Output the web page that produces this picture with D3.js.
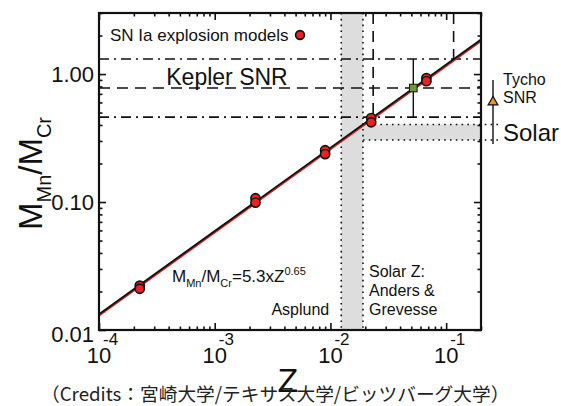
<!DOCTYPE html>
<html>
<head>
<meta charset="utf-8">
<script src="https://cdn.jsdelivr.net/npm/d3@7"></script>
<style>
  body { margin: 0; background: #fff; }
  svg text { font-family: "Liberation Sans", Arial, sans-serif; fill: #111; }
  .credits { font-family: "Noto Sans CJK JP", "Noto Sans", sans-serif !important; fill: #222; }
</style>
</head>
<body>
<svg id="chart"></svg>
<script>
// SN Ia explosion models (metallicity Z, Mn/Cr mass ratio)
const modelZ = [2.25e-4, 2.25e-4, 2.25e-3, 2.25e-3, 9e-3, 9e-3, 0.0225, 0.0225, 0.0675, 0.0675];
const modelRatio = [0.0222, 0.0210, 0.107, 0.099, 0.254, 0.237, 0.453, 0.420, 0.930, 0.880];

// fit lines M_Mn/M_Cr = 5.3 x Z^0.65 (black) and the red model fit below it
const fitZ = [1e-4, 0.2];
const fitRatio = [0.0133, 1.86];
const redFitRatio = [0.0130, 1.82];

// Kepler SNR: ratio low / central / high, and matching Z
const keplerRatio = [0.461, 0.778, 1.31];
const keplerZ = [0.0234, 0.0520, 0.116];

// Solar Z: Asplund .. Anders & Grevesse, and matching ratio band
const solarZ = [0.0124, 0.0191];
const solarRatio = [0.305, 0.404];

// Tycho SNR: low / central / high ratio
const tychoRatio = [0.284, 0.604, 0.897];

const xMajorTicks = [1e-4, 1e-3, 1e-2, 1e-1];
const xExponents = ['-4', '-3', '-2', '-1'];
const yMajorTicks = [0.01, 0.1, 1];
const yTickLabels = ['0.01', '0.10', '1.00'];

class MnCrChart {
    constructor(_config) {
        this.config = {
            parentElement: _config.parentElement,
            containerWidth: _config.containerWidth || 561,
            containerHeight: _config.containerHeight || 406,
            margin: {top: 13, right: 80, bottom: 76, left: 99}
        };
        this.initVis();
    }

    initVis() {
        let vis = this;

        vis.width = vis.config.containerWidth - vis.config.margin.left - vis.config.margin.right;
        vis.height = vis.config.containerHeight - vis.config.margin.top - vis.config.margin.bottom;

        vis.svg = d3.select(vis.config.parentElement)
            .attr('width', vis.config.containerWidth)
            .attr('height', vis.config.containerHeight);

        vis.chart = vis.svg.append('g')
            .attr('transform', `translate(${vis.config.margin.left},${vis.config.margin.top})`);

        vis.xScale = d3.scaleLog()
            .domain([1e-4, 0.2])
            .range([0, vis.width]);

        vis.yScale = d3.scaleLog()
            .domain([0.01, 3])
            .range([vis.height, 0]);

        vis.renderVis();
    }

    renderVis() {
        let vis = this;
        const x = vis.xScale, y = vis.yScale;
        const W = vis.width, H = vis.height;

        // solar Z band (vertical) and solar ratio band (horizontal)
        vis.chart.append('rect')
            .attr('x', x(solarZ[0]))
            .attr('width', x(solarZ[1]) - x(solarZ[0]))
            .attr('y', 0)
            .attr('height', H)
            .attr('fill', '#dddddd');

        vis.chart.append('rect')
            .attr('x', x(solarZ[1]))
            .attr('width', W - x(solarZ[1]))
            .attr('y', y(solarRatio[1]))
            .attr('height', y(solarRatio[0]) - y(solarRatio[1]))
            .attr('fill', '#dddddd');

        vis.chart.selectAll('.solar-v')
            .data(solarZ)
            .join('line')
            .attr('class', 'solar-v')
            .attr('x1', d => x(d)).attr('x2', d => x(d))
            .attr('y1', 0).attr('y2', H)
            .attr('stroke', '#111').attr('stroke-width', 1.6)
            .attr('stroke-dasharray', '1.6,4.2');

        vis.chart.selectAll('.solar-h')
            .data(solarRatio)
            .join('line')
            .attr('class', 'solar-h')
            .attr('x1', x(solarZ[1])).attr('x2', W + 19)
            .attr('y1', d => y(d)).attr('y2', d => y(d))
            .attr('stroke', '#111').attr('stroke-width', 1.6)
            .attr('stroke-dasharray', '1.6,4.2');

        // Kepler SNR lines
        vis.chart.selectAll('.kepler-h')
            .data(keplerRatio)
            .join('line')
            .attr('class', 'kepler-h')
            .attr('x1', 0).attr('x2', W)
            .attr('y1', d => y(d)).attr('y2', d => y(d))
            .attr('stroke', '#111').attr('stroke-width', 1.6)
            .attr('stroke-dasharray', (d, i) => i === 1 ? '11,7' : '10,5,2,5');

        vis.chart.append('line')
            .attr('x1', x(keplerZ[0])).attr('x2', x(keplerZ[0]))
            .attr('y1', 0).attr('y2', y(keplerRatio[0]))
            .attr('stroke', '#111').attr('stroke-width', 1.6)
            .attr('stroke-dasharray', '11,7');

        vis.chart.append('line')
            .attr('x1', x(keplerZ[2])).attr('x2', x(keplerZ[2]))
            .attr('y1', 0).attr('y2', y(keplerRatio[2]))
            .attr('stroke', '#111').attr('stroke-width', 1.6)
            .attr('stroke-dasharray', '11,7');

        vis.chart.append('text')
            .attr('x', 128).attr('y', 72)
            .attr('text-anchor', 'middle')
            .attr('font-size', 23)
            .text('Kepler SNR');

        // fit lines
        const fitData = fitZ.map((z, i) => ({z: z, v: fitRatio[i], r: redFitRatio[i]}));
        vis.chart.append('path')
            .datum(fitData)
            .attr('fill', 'none')
            .attr('stroke', '#d42020').attr('stroke-width', 2.2)
            .attr('d', d3.line().x(d => x(d.z)).y(d => y(d.r)));
        vis.chart.append('path')
            .datum(fitData)
            .attr('fill', 'none')
            .attr('stroke', '#111').attr('stroke-width', 1.8)
            .attr('d', d3.line().x(d => x(d.z)).y(d => y(d.v)));

        // model points
        vis.chart.selectAll('.model-pt')
            .data(modelZ.map((z, i) => ({z: z, v: modelRatio[i]})))
            .join('circle')
            .attr('class', 'model-pt')
            .attr('cx', d => x(d.z)).attr('cy', d => y(d.v))
            .attr('r', 4.6)
            .attr('fill', '#ee2020')
            .attr('stroke', '#111').attr('stroke-width', 1.6);

        // Kepler measured value with error bar
        vis.chart.append('line')
            .attr('x1', x(keplerZ[1])).attr('x2', x(keplerZ[1]))
            .attr('y1', y(keplerRatio[0])).attr('y2', y(keplerRatio[2]))
            .attr('stroke', '#111').attr('stroke-width', 1.4);
        vis.chart.append('rect')
            .attr('x', x(keplerZ[1]) - 3.8).attr('y', y(keplerRatio[1]) - 3.8)
            .attr('width', 7.6).attr('height', 7.6)
            .attr('fill', '#6a9a3a')
            .attr('stroke', '#111').attr('stroke-width', 1);

        // Tycho SNR outside the frame
        const tx = W + 12;
        vis.chart.append('line')
            .attr('x1', tx).attr('x2', tx)
            .attr('y1', y(tychoRatio[0])).attr('y2', y(tychoRatio[2]))
            .attr('stroke', '#111').attr('stroke-width', 1.4);
        vis.chart.append('path')
            .attr('transform', `translate(${tx},${y(tychoRatio[1])})`)
            .attr('d', d3.symbol().type(d3.symbolTriangle).size(42))
            .attr('fill', '#f0921e')
            .attr('stroke', '#111').attr('stroke-width', 1.2);

        vis.chart.append('text').attr('x', W + 22).attr('y', 72).attr('font-size', 16).text('Tycho');
        vis.chart.append('text').attr('x', W + 22).attr('y', 90).attr('font-size', 16).text('SNR');
        vis.chart.append('text').attr('x', W + 22).attr('y', 128).attr('font-size', 24).text('Solar');

        // legend
        vis.chart.append('text')
            .attr('x', 11).attr('y', 28)
            .attr('font-size', 17)
            .text('SN Ia explosion models');
        vis.chart.append('circle')
            .attr('cx', 201).attr('cy', 22).attr('r', 4.4)
            .attr('fill', '#ee2020')
            .attr('stroke', '#111').attr('stroke-width', 1.6);

        // formula
        const f = vis.chart.append('text')
            .attr('x', 73).attr('y', 269)
            .attr('font-size', 17);
        f.append('tspan').text('M');
        f.append('tspan').attr('font-size', 11).attr('dy', 5).text('Mn');
        f.append('tspan').attr('dy', -5).text('/M');
        f.append('tspan').attr('font-size', 11).attr('dy', 5).text('Cr');
        f.append('tspan').attr('dy', -5).text('=5.3xZ');
        f.append('tspan').attr('font-size', 11).attr('dy', -7).text('0.65');

        // solar Z labels
        vis.chart.append('text')
            .attr('x', x(solarZ[0]) - 12).attr('y', 302)
            .attr('text-anchor', 'end').attr('font-size', 16)
            .text('Asplund');
        ['Solar Z:', 'Anders &', 'Grevesse'].forEach((t, i) => {
            vis.chart.append('text')
                .attr('x', x(solarZ[1]) + 6).attr('y', 264 + i * 19)
                .attr('font-size', 16)
                .text(t);
        });

        // axes with inward ticks
        const xMinor = x.ticks().filter(d => !xMajorTicks.some(m => Math.abs(m - d) / m < 1e-6));
        const yMinor = y.ticks().filter(d => !yMajorTicks.some(m => Math.abs(m - d) / m < 1e-6));

        const tickGroup = (axis, vals, size, tr) => {
            const g = vis.chart.append('g')
                .attr('transform', tr)
                .call(axis.tickValues(vals).tickSize(size).tickFormat(''));
            g.select('.domain').remove();
            g.selectAll('line').attr('stroke', '#111').attr('stroke-width', 1.6);
        };
        tickGroup(d3.axisBottom(x), xMajorTicks, -7, `translate(0,${H})`);
        tickGroup(d3.axisBottom(x), xMinor, -3.5, `translate(0,${H})`);
        tickGroup(d3.axisTop(x), xMajorTicks, -7, 'translate(0,0)');
        tickGroup(d3.axisTop(x), xMinor, -3.5, 'translate(0,0)');
        tickGroup(d3.axisLeft(y), yMajorTicks, -7, 'translate(0,0)');
        tickGroup(d3.axisLeft(y), yMinor, -3.5, 'translate(0,0)');
        tickGroup(d3.axisRight(y), yMajorTicks, -7, `translate(${W},0)`);
        tickGroup(d3.axisRight(y), yMinor, -3.5, `translate(${W},0)`);

        vis.chart.append('rect')
            .attr('width', W).attr('height', H)
            .attr('fill', 'none')
            .attr('stroke', '#111').attr('stroke-width', 2.2);

        // tick labels
        vis.chart.selectAll('.x-base')
            .data(xMajorTicks)
            .join('text')
            .attr('class', 'x-base')
            .attr('x', d => x(d)).attr('y', H + 33)
            .attr('text-anchor', 'middle').attr('font-size', 22)
            .text('10');
        vis.chart.selectAll('.x-exp')
            .data(xMajorTicks)
            .join('text')
            .attr('class', 'x-exp')
            .attr('x', d => x(d) + 4).attr('y', H + 15)
            .attr('font-size', 17)
            .text((d, i) => xExponents[i]);

        vis.chart.selectAll('.y-lab')
            .data(yMajorTicks)
            .join('text')
            .attr('class', 'y-lab')
            .attr('x', -5).attr('y', (d, i) => y(d) + 8 + (i === 0 ? 4 : 0))
            .attr('text-anchor', 'end').attr('font-size', 22)
            .text((d, i) => yTickLabels[i]);

        // axis titles
        const yl = vis.chart.append('text')
            .attr('transform', `translate(-57,${H / 2 + 2}) rotate(-90)`)
            .attr('text-anchor', 'middle')
            .attr('font-size', 33);
        yl.append('tspan').text('M');
        yl.append('tspan').attr('font-size', 20).attr('dy', 9).text('Mn');
        yl.append('tspan').attr('dy', -9).text('/M');
        yl.append('tspan').attr('font-size', 20).attr('dy', 9).text('Cr');

        vis.chart.append('text')
            .attr('x', W / 2 - 2).attr('y', H + 62)
            .attr('text-anchor', 'middle').attr('font-size', 34)
            .text('Z');

        vis.svg.append('text')
            .attr('class', 'credits')
            .attr('x', 41).attr('y', 401)
            .attr('font-size', 18.7)
            .text('（Credits：宮崎大学/テキサス大学/ビッツバーグ大学）');
    }
}

new MnCrChart({parentElement: '#chart'});
</script>
</body>
</html>
